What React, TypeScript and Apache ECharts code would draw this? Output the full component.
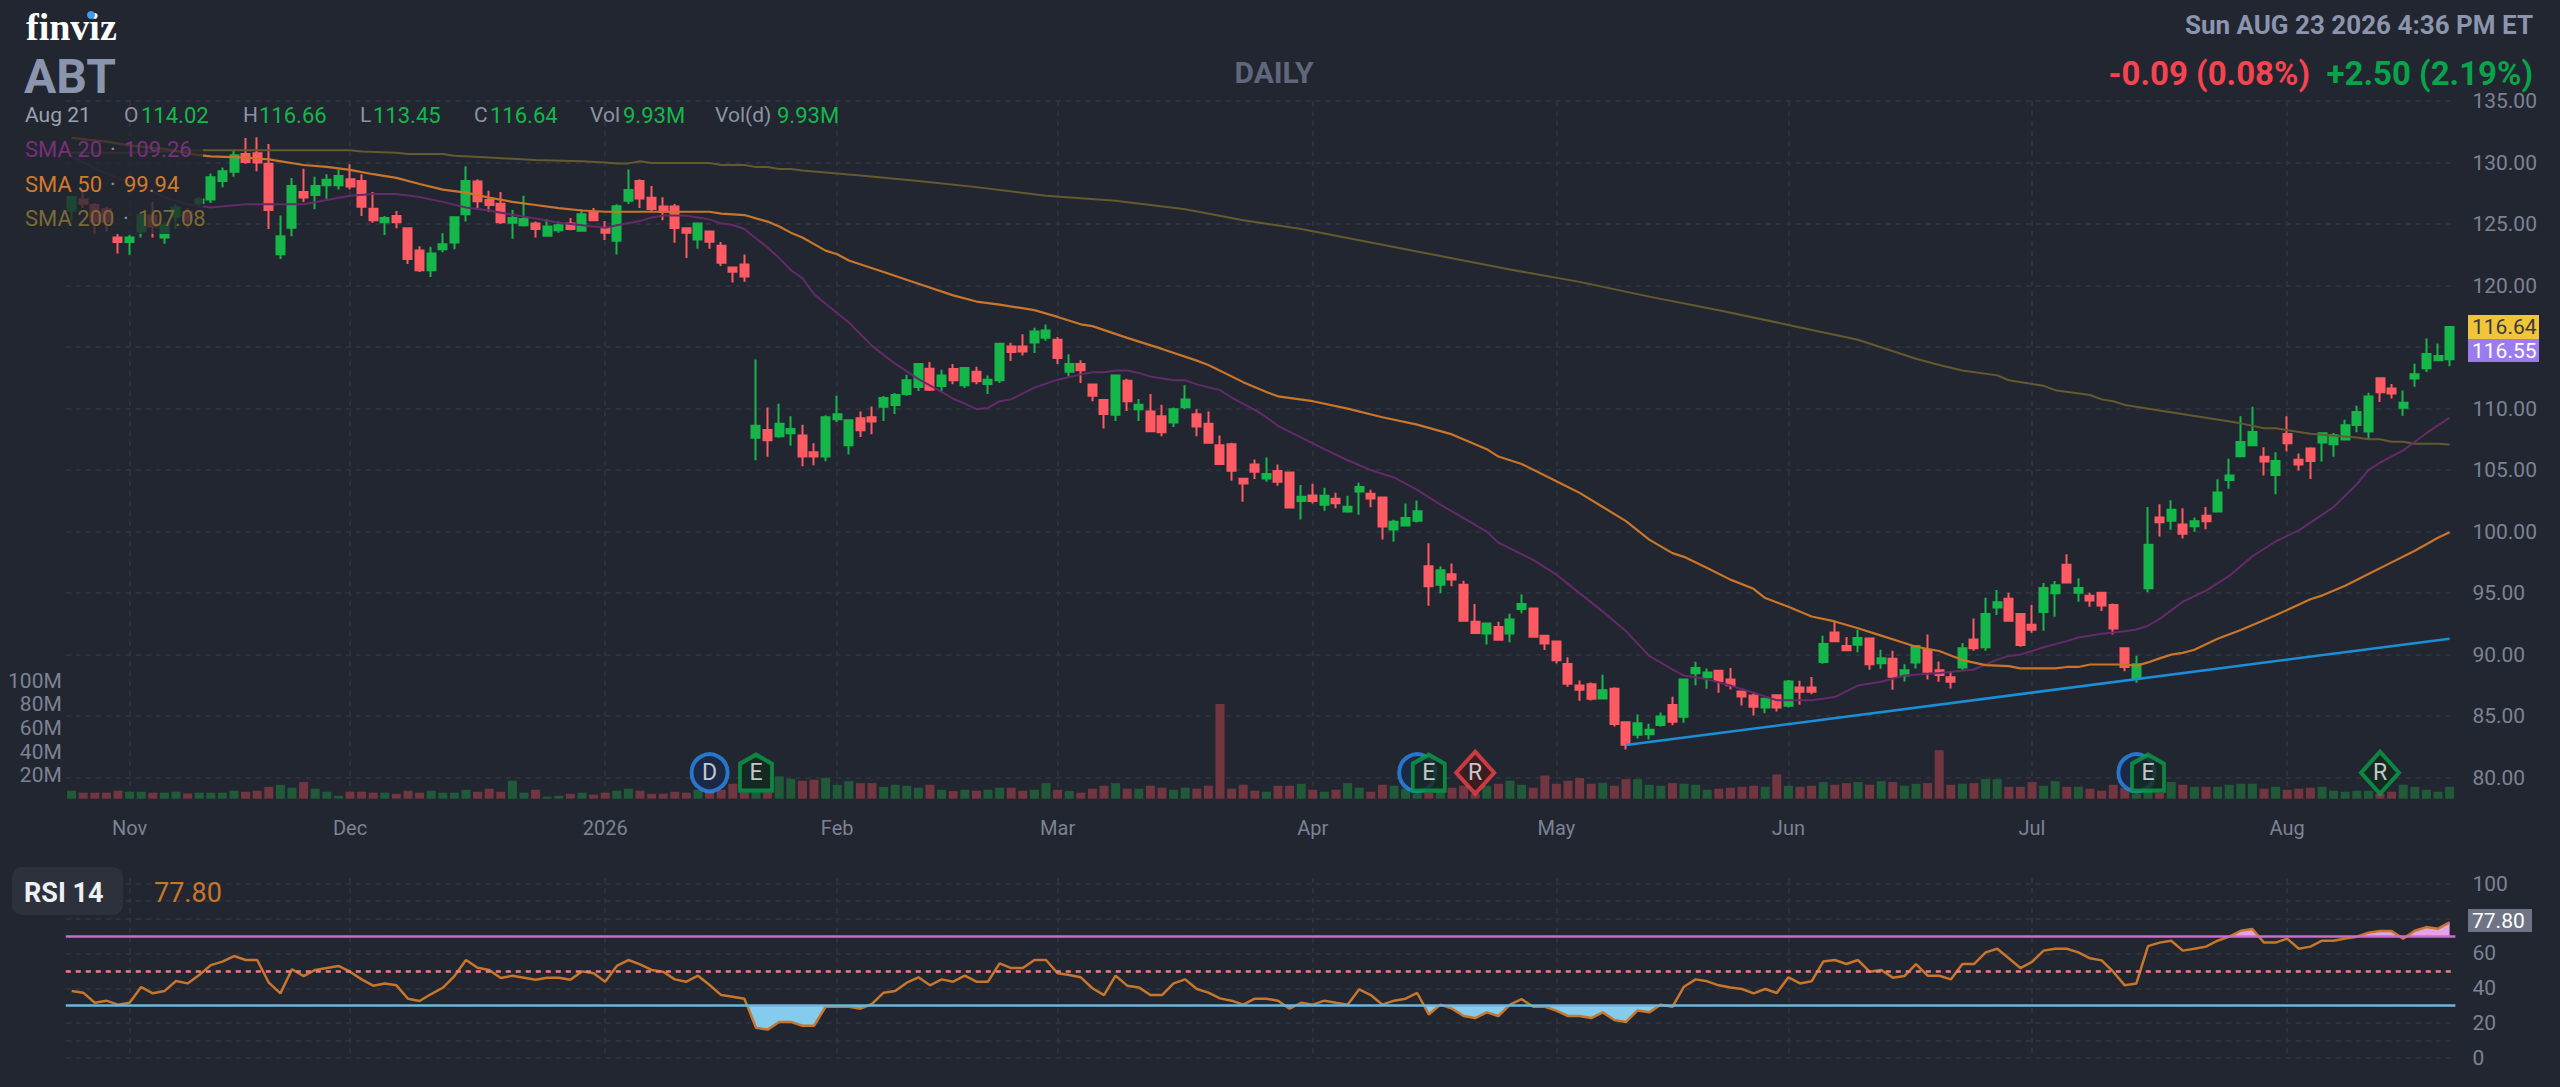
import React, { useEffect, useRef } from "react";
import * as echarts from "echarts";

const opens = [
  126.1,127.0,126.55,126.2,123.9,123.55,124.4,125.7,123.9,125.6,
  126.0,126.7,127.0,128.5,129.25,130.7,130.75,129.9,122.55,124.7,
  127.6,127.35,128.15,128.15,128.65,128.5,126.25,125.15,125.65,124.65,
  122.85,121.25,122.95,123.5,125.8,128.45,126.95,126.65,125.1,124.9,
  125.05,124.05,124.5,125.05,124.45,125.9,124.7,123.65,126.9,128.5,
  127.14,126.43,126.43,124.65,123.75,124.4,123.24,121.47,121.72,107.62,
  108.27,107.76,108.0,107.81,106.46,106.1,109.14,107.03,109.22,109.3,
  110.14,110.3,111.19,111.76,113.24,111.84,113.22,111.89,113.0,112.0,
  112.3,115.05,115.05,115.38,115.76,115.59,113.0,113.62,111.95,110.7,
  109.49,112.27,109.95,109.76,109.38,108.86,110.11,109.54,108.76,107.03,
  107.11,104.3,105.46,104.32,104.92,104.81,102.48,102.94,102.18,102.67,
  101.64,103.26,103.08,102.78,100.17,100.5,100.88,97.18,95.69,96.53,
  95.69,92.68,91.72,92.24,91.72,93.71,93.75,91.53,91.07,89.25,
  87.49,87.6,86.44,87.22,84.51,83.5,83.54,84.28,85.9,84.95,
  88.48,88.17,88.69,87.98,87.0,86.68,85.7,86.71,85.84,87.33,
  87.33,89.4,91.81,90.7,90.81,91.32,89.31,89.67,88.31,89.37,
  90.37,88.74,88.17,88.96,91.24,90.61,93.84,94.54,93.3,92.43,
  93.46,95.0,97.31,95.03,94.79,95.03,94.03,90.53,88.07,95.4,
  101.15,100.88,100.58,100.44,101.3,101.63,104.19,106.13,107.02,106.08,
  104.6,107.94,105.84,106.75,107.24,107.1,107.48,108.67,108.13,112.47,
  111.63,110.07,112.44,113.27,113.92,114.02,
];
const closes = [
  127.2,126.65,125.2,125.2,123.55,123.9,125.7,124.8,124.9,126.35,
  125.3,127.0,128.8,129.3,130.6,130.05,130.0,126.15,124.0,128.1,
  127.15,128.1,128.6,128.9,128.05,126.4,125.3,125.5,125.15,122.15,
  121.25,122.6,123.35,125.55,128.5,126.85,126.55,125.15,125.5,125.4,
  124.6,124.8,124.9,124.6,125.8,125.3,124.3,126.45,127.76,127.08,
  126.22,126.0,124.67,124.3,125.05,123.56,121.85,121.12,120.74,108.6,
  107.43,108.76,108.35,106.1,106.1,109.3,109.54,109.05,108.24,108.95,
  110.86,111.1,112.3,113.62,111.54,112.68,112.3,113.3,112.22,112.35,
  115.27,114.6,114.65,116.27,116.35,114.11,113.62,113.11,111.05,109.57,
  112.68,110.59,110.32,108.16,108.08,109.95,110.73,108.54,107.22,105.49,
  104.95,103.92,104.86,104.68,104.05,101.96,102.83,102.48,102.91,102.31,
  102.02,103.62,102.7,100.42,100.8,101.1,101.66,95.56,96.86,96.11,
  92.76,91.76,92.53,91.21,92.86,94.12,91.45,90.9,89.55,87.63,
  87.14,86.41,87.11,84.37,82.67,84.43,83.89,84.98,84.54,87.98,
  88.92,88.55,87.85,87.52,86.6,85.76,86.41,85.7,87.82,86.98,
  86.98,90.86,91.1,90.35,91.35,89.23,89.7,88.2,88.74,90.7,
  88.61,88.34,87.8,90.53,90.53,93.3,94.25,92.75,90.78,92.02,
  95.41,95.65,95.87,95.41,94.41,94.0,92.13,88.99,89.23,98.94,
  100.77,101.77,99.82,100.85,100.85,103.17,104.57,107.29,108.1,105.7,
  105.75,107.18,105.46,105.75,108.0,107.83,108.64,109.72,110.98,111.33,
  111.23,110.47,112.79,114.43,114.27,116.64,
];
const highs = [
  127.2,127.6,126.7,126.4,124.2,124.1,125.9,126.8,125.2,126.6,
  126.3,127.2,129.1,129.6,131.0,132.0,132.05,131.5,125.7,128.75,
  129.5,128.85,129.05,129.45,129.85,129.05,127.6,125.65,126.05,124.7,
  123.2,123.15,124.25,125.6,129.7,128.65,127.7,127.6,126.15,127.3,
  125.2,125.4,125.2,125.5,126.2,126.3,125.25,126.6,129.44,128.63,
  128.1,127.17,126.62,124.73,125.13,124.4,123.53,121.47,122.53,114.0,
  110.08,110.4,109.38,108.68,107.19,109.46,111.05,109.14,109.76,110.16,
  111.03,111.27,112.76,113.7,113.78,113.16,113.62,113.38,113.41,112.68,
  115.35,115.35,116.05,116.57,116.84,115.81,114.41,113.92,111.95,110.7,
  112.78,112.43,110.78,111.19,110.32,110.08,111.89,109.95,109.76,107.81,
  107.22,104.3,105.86,106.03,105.46,104.81,103.78,103.89,103.56,103.16,
  102.91,103.97,103.4,102.83,100.96,102.29,102.53,99.06,97.18,97.4,
  96.0,94.12,92.53,92.68,93.33,94.88,93.8,91.53,91.07,89.79,
  87.9,87.74,88.36,87.36,84.51,85.13,84.38,85.3,86.57,87.98,
  89.42,88.88,88.69,88.92,87.03,86.87,86.49,86.79,87.95,87.87,
  88.18,91.54,92.71,91.43,92.03,91.32,90.4,90.32,89.23,90.7,
  91.64,89.45,88.66,90.94,92.94,94.62,95.25,95.03,93.3,94.03,
  95.82,95.98,98.17,96.22,95.03,95.03,94.16,90.53,89.91,102.0,
  102.22,102.55,101.9,101.15,102.01,104.25,105.92,109.37,110.15,106.86,
  106.46,109.37,106.35,106.86,108.0,108.02,109.1,110.23,111.28,112.47,
  112.0,111.47,113.65,115.7,115.3,116.66,
];
const lows = [
  125.3,126.3,124.2,124.4,122.6,122.5,123.9,123.9,123.4,124.6,
  124.65,126.5,126.7,128.0,128.85,129.9,129.3,124.6,122.15,124.0,
  126.8,126.2,127.05,127.8,127.8,125.65,125.1,124.1,124.65,121.75,
  121.1,120.7,122.7,122.95,125.2,126.3,126.0,125.0,123.8,124.8,
  123.9,124.0,124.3,124.5,124.4,125.25,123.7,122.53,126.62,126.3,
  126.05,125.3,123.48,122.23,122.99,122.99,121.58,120.25,120.31,105.8,
  106.08,107.62,106.97,105.32,105.4,105.73,108.92,106.27,107.7,107.92,
  109.0,109.57,111.05,111.43,111.43,111.43,111.97,111.68,111.97,111.19,
  112.08,113.86,114.32,114.51,115.51,113.62,112.62,112.08,110.6,108.38,
  109.0,109.81,109.0,108.11,107.76,108.51,109.95,107.76,107.22,105.41,
  104.14,102.43,104.27,104.05,103.73,101.88,100.98,102.29,101.69,101.91,
  101.53,101.37,101.99,99.36,99.17,100.5,100.74,93.98,95.0,95.56,
  92.68,91.68,90.83,91.15,91.0,93.37,91.45,90.37,89.28,87.39,
  86.26,86.27,86.38,84.16,82.29,83.18,83.1,84.16,84.27,84.46,
  87.52,87.22,86.9,87.17,85.87,85.05,85.24,85.38,85.7,85.92,
  86.79,89.26,91.08,90.35,90.19,88.77,88.85,87.14,87.82,88.88,
  87.99,87.8,87.25,88.74,90.32,90.32,93.22,92.75,90.64,91.78,
  91.94,93.08,95.79,94.3,93.89,93.54,91.64,88.66,87.71,95.08,
  99.61,100.15,99.45,99.99,100.2,101.63,103.49,106.08,107.02,104.57,
  103.03,106.54,104.97,104.27,105.7,106.08,107.43,108.07,107.53,110.53,
  110.82,109.42,111.77,112.98,113.87,113.45,
];
// volume in millions
const volumes = [
  6.8,5.1,5.1,5.1,6.8,5.9,5.9,5.1,5.1,5.9,
  4.5,5.1,5.1,5.1,6.8,5.9,6.8,10.1,11.8,9.3,
  14.1,8.5,5.9,2.5,5.9,5.9,5.1,5.1,4.2,6.8,
  5.1,6.8,5.1,5.1,7.6,5.9,8.5,5.9,15.2,5.1,
  7.6,1.7,2.5,4.2,5.1,3.4,5.1,6.8,8.5,6.8,
  4.2,4.2,5.9,5.1,7.6,7.6,7.6,12.7,5.1,5.1,
  5.1,18.9,16.9,15.2,16.1,17.5,11.8,14.9,13.2,13.2,
  9.9,11.8,11.0,9.3,11.8,7.6,6.5,7.6,6.8,7.6,
  9.3,9.3,6.8,7.6,13.2,7.6,6.5,5.1,8.5,11.0,
  13.2,8.5,8.5,11.0,9.3,7.6,9.3,8.5,11.0,80.3,
  8.5,11.8,6.8,5.9,11.0,11.0,12.7,7.6,5.9,7.6,
  13.2,9.3,5.9,11.8,11.0,8.5,4.2,5.1,5.9,9.3,
  11.0,4.2,11.0,12.7,15.2,11.8,9.3,19.7,12.7,15.2,
  17.5,12.7,13.5,11.0,16.6,16.6,11.8,11.0,13.2,12.7,
  11.8,7.6,8.5,9.3,10.1,11.0,10.1,20.6,11.0,10.1,
  11.0,14.1,11.8,13.2,14.1,11.8,14.9,14.1,11.0,12.7,
  13.2,41.1,11.8,12.7,13.2,16.6,16.6,10.1,10.1,14.1,
  11.0,14.9,10.1,10.1,8.5,6.8,11.8,9.0,4.2,13.2,
  4.8,14.1,11.8,10.1,10.1,10.1,11.8,12.7,12.7,8.5,
  10.1,7.6,8.5,9.3,10.1,6.8,5.9,6.8,6.8,4.2,
  5.9,11.8,10.1,7.6,5.9,10.1,
];
const rsiValues = [
  38.4,37.5,31.7,32.9,30.6,31.7,40.7,37.1,38.4,44.2,
  42.8,47.6,53.3,55.3,58.5,56.2,56.2,43.2,37.1,50.9,
  47.0,50.5,51.6,52.8,49.5,45.1,41.5,42.8,41.7,34.0,
  32.7,36.7,40.3,47.0,56.2,51.8,50.5,45.9,47.2,46.1,
  44.9,46.1,46.1,44.9,49.7,48.6,43.8,52.8,56.2,53.7,
  50.5,49.5,45.1,43.8,47.2,41.9,36.1,35.2,34.0,17.4,
  16.3,20.7,20.7,18.5,18.5,29.4,29.4,29.4,28.3,31.0,
  37.5,38.4,43.2,46.3,41.7,45.1,43.8,47.2,43.8,43.8,
  54.3,51.6,51.6,56.2,56.2,48.6,47.6,46.3,40.0,36.1,
  47.2,41.5,40.5,36.1,36.1,42.8,45.1,39.6,37.5,34.2,
  32.9,30.6,34.0,34.0,32.9,28.3,31.7,30.6,32.9,31.7,
  30.6,39.4,36.1,30.6,32.9,34.0,37.3,25.0,30.6,28.3,
  24.1,22.9,26.2,24.1,30.6,33.8,29.4,29.4,27.2,24.1,
  24.1,22.9,26.2,21.8,20.7,27.3,26.2,30.6,29.4,40.9,
  45.1,44.0,41.7,40.5,39.6,37.1,39.6,37.3,46.3,42.8,
  44.0,55.3,56.2,53.9,56.2,49.5,50.5,46.1,47.0,53.9,
  47.2,47.2,45.1,53.9,53.9,60.6,62.7,57.2,51.6,55.1,
  61.6,62.7,62.7,60.6,57.2,56.0,49.5,41.7,42.8,64.2,
  66.2,67.3,61.6,62.7,63.9,67.3,69.6,73.0,74.0,66.2,
  66.2,68.5,62.7,63.9,67.3,67.3,68.5,69.6,71.9,72.8,
  72.8,68.5,73.0,75.1,74.2,77.8,
];
// [bar index, value] readings
const sma20Points = [
  [0,130.5],[3,129.1],[5,128.4],[8,127.2],[10,126.6],[12,126.35],[15,126.6],[18,126.6],[20,126.6],[22,126.95],
  [24,127.3],[26,127.45],[28,127.45],[30,127.2],[32,126.8],[34,126.35],[36,126.1],[38,125.75],[40,125.45],[42,125.1],
  [44,124.9],[46,124.7],[47,124.9],[49,125.24],[50,125.54],[51,125.7],[52,125.7],[53,125.67],[54,125.54],[55,125.38],
  [56,125.05],[57,124.92],[58,124.6],[59,123.83],[60,123.1],[61,122.23],[62,121.26],[63,120.6],[64,119.3],[67,117.0],
  [69,115.1],[71,113.65],[73,112.4],[75,111.35],[76,110.8],[77,110.4],[78,109.95],[79,110.05],[80,110.6],[81,110.75],
  [83,111.7],[85,112.35],[87,112.78],[88,112.95],[89,112.95],[90,113.1],[91,113.1],[92,112.9],[93,112.6],[95,112.3],
  [96,112.3],[97,111.97],[99,111.5],[100,110.9],[102,109.9],[103,109.3],[104,108.6],[108,106.7],[110,105.8],[112,105.0],
  [114,104.4],[116,103.4],[118,102.2],[120,101.1],[122,100.0],[123,99.1],[126,97.7],[128,96.5],[130,95.0],[132,93.5],
  [134,91.9],[136,89.9],[138,88.8],[139,88.3],[141,88.0],[143,87.5],[145,86.9],[147,86.3],[149,86.3],[150,86.3],
  [152,86.55],[154,87.5],[156,87.8],[158,88.3],[161,88.5],[164,88.8],[165,89.2],[166,89.6],[167,89.9],[168,90.0],
  [170,90.6],[172,91.1],[173,91.4],[175,91.7],[177,91.9],[178,92.05],[179,92.35],[180,92.9],[181,93.6],[182,94.3],
  [184,95.2],[186,96.4],[188,98.0],[190,99.2],[192,100.1],[195,102.0],[197,103.85],[198,105.0],[199,105.6],[201,106.6],
  [203,108.0],[205,109.26],
];
const sma50Points = [
  [0,132.0],[3,131.7],[5,131.4],[8,131.1],[11,130.6],[12,130.5],[15,130.4],[17,130.25],[20,129.8],[22,129.65],
  [24,129.4],[26,129.05],[28,128.75],[30,128.25],[32,127.8],[34,127.55],[36,127.15],[38,126.8],[40,126.55],[42,126.3],
  [44,126.1],[46,126.0],[48,126.0],[55,126.0],[56,125.84],[58,125.73],[59,125.46],[60,125.2],[61,124.8],[62,124.3],
  [63,123.9],[65,122.84],[66,122.55],[67,122.03],[70,121.1],[73,120.15],[76,119.2],[78,118.7],[80,118.45],[83,118.0],
  [85,117.45],[87,116.85],[88,116.7],[91,115.75],[94,114.85],[97,113.9],[98,113.55],[101,112.15],[103,111.35],[104,111.0],
  [107,110.6],[110,110.0],[113,109.3],[116,108.7],[119,107.9],[122,106.7],[123,106.1],[125,105.5],[128,104.1],[130,103.15],
  [132,102.0],[134,100.85],[136,99.35],[138,98.25],[139,97.95],[141,97.05],[143,96.1],[145,95.35],[146,94.6],[148,93.9],
  [150,93.1],[152,92.7],[154,92.15],[156,91.55],[158,90.95],[159,90.64],[161,90.3],[163,89.56],[165,89.15],[167,89.07],
  [168,88.88],[171,88.88],[172,89.0],[173,89.0],[174,89.2],[177,89.2],[178,89.1],[179,89.37],[180,89.7],[181,90.0],
  [182,90.15],[183,90.4],[185,91.3],[187,92.0],[190,93.2],[193,94.5],[194,94.8],[196,95.6],[198,96.55],[200,97.5],
  [202,98.45],[204,99.5],[205,99.94],
];
const sma200Points = [
  [0,130.8],[5,130.8],[11,131.0],[12,131.0],[17,131.0],[24,131.0],[25,130.9],[28,130.8],[29,130.7],[32,130.7],
  [33,130.55],[36,130.4],[40,130.2],[44,130.1],[46,130.0],[47,129.93],[48,129.93],[49,130.1],[50,129.96],[55,129.96],
  [56,129.8],[58,129.8],[59,129.63],[60,129.63],[61,129.47],[62,129.47],[63,129.36],[68,128.95],[73,128.5],[78,128.0],
  [84,127.3],[90,126.9],[96,126.2],[101,125.3],[106,124.6],[112,123.5],[118,122.4],[124,121.3],[130,120.3],[136,119.1],
  [142,118.0],[148,116.8],[154,115.6],[159,114.05],[161,113.54],[163,113.1],[166,112.7],[167,112.3],[170,111.85],[171,111.5],
  [174,111.1],[175,110.75],[176,110.6],[177,110.3],[180,109.85],[184,109.25],[187,108.8],[189,108.4],[190,108.4],[193,107.95],
  [195,107.8],[197,107.65],[198,107.5],[199,107.5],[200,107.3],[201,107.3],[202,107.15],[204,107.15],[205,107.08],
];
const trendPoints = [[134,82.65],[205,91.3]];
const monthLabels: Record<number,string> = {5:"Nov",24:"Dec",46:"2026",66:"Feb",85:"Mar",107:"Apr",128:"May",148:"Jun",169:"Jul",191:"Aug"};
const events = [
  {i:55,kind:"D",text:"D"},{i:59,kind:"E",text:"E"},{i:116,kind:"D",text:""},{i:117,kind:"E",text:"E"},{i:121,kind:"R-",text:"R"},
  {i:178,kind:"D",text:""},{i:179,kind:"E",text:"E"},{i:199,kind:"R+",text:"R"},
];
const eventLevel = 22;

const BG = "#222630";
const UP = "#16b74a";
const DOWN = "#fe5a63";
const VUP = "#215a39";
const VDOWN = "#713640";
const GRID = "#2e323c";
const AXIS = "#7c8394";
const FONT = "Roboto";
const cats = closes.map((_, i) => String(i));

const left = 65.8, width = 2389.6;
const step = width / cats.length;

const isMonth = (i: number) => monthLabels[i] !== undefined;
const dashed = { color: GRID, width: 2, type: [5, 5] as any };

function text(x:number,y:number,t:string,fill:string,fontSize:number,extra:any={}) {
  return { type:"text", x, y, z:101, silent:true, style:{ text:t, fill, fontSize, fontFamily:FONT, textVerticalAlign:"middle", verticalAlign:"middle", ...extra } };
}

function markerStyle(kind:string){
  if(kind==="D") return {symbol:"circle",symbolSize:[36,37],itemStyle:{color:"#1a2a4d",borderColor:"#2a8bed",borderWidth:4}};
  if(kind==="E") return {symbol:"path://M0,5 L8,0 L16,5 L16,20 L0,20 Z",symbolSize:[32,36],symbolKeepAspect:false,itemStyle:{color:"#14291f",borderColor:"#0a9e48",borderWidth:4}};
  if(kind==="R-") return {symbol:"diamond",symbolSize:[38,42],itemStyle:{color:"#421a1e",borderColor:"#f0414a",borderWidth:4}};
  return {symbol:"diamond",symbolSize:[38,42],itemStyle:{color:"#14291f",borderColor:"#0a9e48",borderWidth:4}};
}

function buildOption():any{
  const hiddenY = { show:false, type:"value", min:0, max:1 };
  const series:any[] = [
    { type:"bar", name:"Volume", xAxisIndex:1, yAxisIndex:1, barWidth:9, barCategoryGap:0,
      data: volumes.map((v,i)=>({value:v,itemStyle:{color:closes[i]>=opens[i]?VUP:VDOWN}})) },
    { type:"candlestick", name:"ABT", xAxisIndex:0, yAxisIndex:0, barWidth:8.5,
      itemStyle:{color:UP,color0:DOWN,borderColor:UP,borderColor0:DOWN,borderWidth:2},
      data: closes.map((c,i)=>[opens[i],c,lows[i],highs[i]]) },
    { type:"line", name:"SMA 200", xAxisIndex:0, yAxisIndex:0, showSymbol:false, data:sma200Points, lineStyle:{color:"#655a2e",width:2}, z:3 },
    { type:"line", name:"SMA 20", xAxisIndex:0, yAxisIndex:0, showSymbol:false, data:sma20Points, lineStyle:{color:"#642a69",width:2}, z:3 },
    { type:"line", name:"SMA 50", xAxisIndex:0, yAxisIndex:0, showSymbol:false, data:sma50Points, lineStyle:{color:"#c9762b",width:2.2}, z:3 },
    { type:"line", name:"Trend", xAxisIndex:0, yAxisIndex:0, showSymbol:false, data:trendPoints, lineStyle:{color:"#1a8fd8",width:2.5}, z:3 },
    { type:"scatter", name:"Events", xAxisIndex:1, yAxisIndex:1, z:5,
      data: events.map(e=>({ value:[e.i,eventLevel], ...markerStyle(e.kind),
        label:{show:e.text!=="",position:"inside",formatter:e.text,color:"#f2f4f8",fontFamily:FONT,fontSize:23} })) },
    { type:"line", name:"RSI fill", xAxisIndex:2, yAxisIndex:2, showSymbol:false, data:rsiValues,
      lineStyle:{width:0,opacity:0}, areaStyle:{origin:30,opacity:1}, z:2 },
    { type:"line", name:"RSI 14", xAxisIndex:2, yAxisIndex:2, showSymbol:false, data:rsiValues, lineStyle:{color:"#c7762c",width:2.5}, z:4,
      markLine:{ silent:true, symbol:"none", label:{show:false}, animation:false,
        data:[
          {yAxis:70,lineStyle:{color:"#c56fcb",width:2.5,type:"solid"}},
          {yAxis:50,lineStyle:{color:"#f07f7f",width:2.5,type:[5,5]}},
          {yAxis:30,lineStyle:{color:"#6bb6dc",width:2.5,type:"solid"}},
        ] } },
  ];
  const fillIndex = series.findIndex(s=>s.name==="RSI fill");
  return {
    backgroundColor:BG, animation:false,
    grid:[
      {left,top:101,width,height:676.7},
      {left,top:680.7,width,height:118},
      {left,top:883.7,width,height:174.3},
      {left:left+step/2,top:101,width:width-step,height:698},
      {left:left+step/2,top:878,width:width-step,height:180},
    ],
    xAxis:[0,1,2].map(g=>({ type:"category", gridIndex:g, data:cats, boundaryGap:true, axisLine:{show:false}, axisTick:{show:false}, axisLabel:{show:false}, splitLine:{show:false} })).concat(
      [3,4].map(g=>({ type:"category", gridIndex:g, data:cats, boundaryGap:false, axisLine:{show:false}, axisTick:{show:false},
        axisLabel:{ show:g===3, interval:(i:number)=>isMonth(i), formatter:(v:string)=>monthLabels[Number(v)]??"", color:AXIS, fontFamily:FONT, fontSize:20, margin:19, hideOverlap:false },
        splitLine:{ show:true, interval:(i:number)=>isMonth(i), lineStyle:dashed } })) as any),
    yAxis:[
      { type:"value", gridIndex:0, position:"right", min:80, max:135, interval:5, axisLine:{show:false}, axisTick:{show:false},
        axisLabel:{ color:AXIS, fontFamily:FONT, fontSize:21, margin:17, align:"left", formatter:(v:number)=> v===115?"":v.toFixed(2) },
        splitLine:{show:true,lineStyle:dashed} },
      { type:"value", gridIndex:1, position:"left", min:0, max:100, interval:20, axisLine:{show:false}, axisTick:{show:false},
        axisLabel:{ color:AXIS, fontFamily:FONT, fontSize:21, margin:4, align:"right", formatter:(v:number)=> v===0?"":`${v}M` }, splitLine:{show:false} },
      { type:"value", gridIndex:2, position:"right", min:0, max:100, interval:10, axisLine:{show:false}, axisTick:{show:false},
        axisLabel:{ color:AXIS, fontFamily:FONT, fontSize:21, margin:17, align:"left", formatter:(v:number)=> (v%20===0&&v!==80)?String(v):"" },
        splitLine:{show:true,lineStyle:dashed} },
      { ...hiddenY, gridIndex:3 },
      { ...hiddenY, gridIndex:4 },
    ],
    visualMap:[{ show:false, type:"piecewise", seriesIndex:fillIndex, dimension:1,
      pieces:[{lt:30,color:"#84cbee"},{gte:30,lt:70,color:"rgba(34,38,48,0)"},{gte:70,color:"#e3a3e6"}] }],
    series,
    graphic:[
      { type:"rect", z:100, silent:true, shape:{x:0,y:130,width:203,height:104}, style:{fill:"rgba(34,38,48,0.78)"} },
      text(26,27,"finviz","#ffffff",38,{fontFamily:"Liberation Serif",fontWeight:"bold"}),
      { type:"circle", z:102, silent:true, shape:{cx:91,cy:15,r:4}, style:{fill:"#3f9bf0"} },
      text(24,76,"ABT","#8b95ad",48,{fontWeight:"bold"}),
      text(25,115,"Aug 21","#9aa1b0",21),
      text(124,115,"O","#8b93a5",21), text(141,115,"114.02",UP,22),
      text(243,115,"H","#8b93a5",21), text(259,115,"116.66",UP,22),
      text(360,115,"L","#8b93a5",21), text(373,115,"113.45",UP,22),
      text(474,115,"C","#8b93a5",21), text(490,115,"116.64",UP,22),
      text(590,115,"Vol","#8b93a5",21), text(623,115,"9.93M",UP,22),
      text(715,115,"Vol(d)","#8b93a5",21), text(777,115,"9.93M",UP,22),
      text(25,149,"SMA 20","#7a2f7c",22), text(110,149,"·","#8b93a5",22), text(124,149,"109.26","#7a2f7c",22),
      text(25,184,"SMA 50","#d07a2e",22), text(110,184,"·","#8b93a5",22), text(124,184,"99.94","#d07a2e",22),
      text(25,218,"SMA 200","#7a6a35",22), text(123,218,"·","#8b93a5",22), text(138,218,"107.08","#7a6a35",22),
      text(1274,72,"DAILY","#5f677a",30,{fontWeight:"bold",align:"center",textAlign:"center"}),
      text(2533,25,"Sun AUG 23 2026 4:36 PM ET","#8b95ad",26,{fontWeight:"bold",align:"right",textAlign:"right"}),
      text(2310,73,"-0.09 (0.08%)","#f5434f",33,{fontWeight:"bold",align:"right",textAlign:"right"}),
      text(2533,73,"+2.50 (2.19%)","#0aa24a",33,{fontWeight:"bold",align:"right",textAlign:"right"}),
      { type:"rect", z:100, silent:true, shape:{x:2468,y:315,width:71,height:24}, style:{fill:"#f2c43a"} },
      text(2472,327,"116.64","#3a3a3a",21),
      { type:"rect", z:100, silent:true, shape:{x:2468,y:339,width:71,height:23}, style:{fill:"#9b7cf0"} },
      text(2472,350.5,"116.55","#ffffff",21),
      { type:"rect", z:100, silent:true, shape:{x:2468,y:909,width:64,height:23}, style:{fill:"#6e7484"} },
      text(2472,921,"77.80","#ffffff",21),
      { type:"rect", z:100, silent:true, shape:{x:12,y:867,width:111,height:48,r:10}, style:{fill:"#2d313c"} },
      text(24,893,"RSI 14","#eef0f4",27,{fontWeight:"bold"}),
      text(154,893,"77.80","#c9762b",27),
    ],
  };
}

export default function App(){
  const ref = useRef<HTMLDivElement>(null);
  useEffect(()=>{
    document.body.style.margin="0";
    document.body.style.background=BG;
    const chart = echarts.init(ref.current!,undefined,{renderer:"svg"});
    chart.setOption(buildOption());
    return ()=>chart.dispose();
  },[]);
  return <div ref={ref} style={{width:2560,height:1087}}/>;
}
